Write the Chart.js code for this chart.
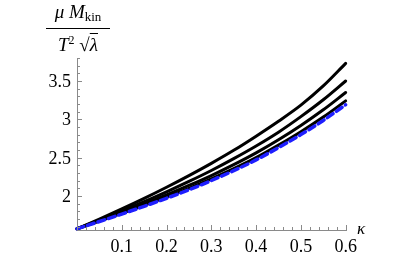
<!DOCTYPE html>
<html>
<head>
<meta charset="utf-8">
<script src="https://cdn.jsdelivr.net/npm/chart.js@4/dist/chart.umd.min.js"></script>
<style>
  html, body { margin: 0; padding: 0; background: #fff; }
  #wrap { position: relative; width: 415px; height: 257px; }
  .lbl { position: absolute; font-family: "Times New Roman", "Liberation Serif", Times, "DejaVu Serif", serif; color: #000; white-space: nowrap; }
  .tick { font-size: 18px; line-height: 20px; height: 20px; width: 40px; }
  #frac { left: 46px; top: 1px; width: 64px; text-align: center; font-size: 19px; }
  #frac .num { border-bottom: 1px solid #000; padding: 0 0 1px 0; line-height: 21px; }
  #frac .den { line-height: 21px; padding-top: 1px; }
  #frac i { font-style: italic; }
  #frac sub { font-size: 13px; vertical-align: -3px; }
  #frac sup { font-size: 12px; vertical-align: 7px; }
  #frac .rad { text-decoration: overline; }
  #kappa { left: 357px; top: 219px; font-size: 17px; font-style: italic; }
</style>
</head>
<body>
<div id="wrap">
  <canvas id="chart" width="415" height="257"></canvas>
  <div class="lbl" id="frac">
    <div class="num"><i>μ M</i><sub>kin</sub></div>
    <div class="den"><i>T</i><sup>2</sup> √<span class="rad"><i>λ</i></span></div>
  </div>
  <div class="lbl" id="kappa">κ</div>
</div>
<script>
// kappa grid the curves were read at
const kappa = [0, 0.05, 0.1, 0.15, 0.2, 0.25, 0.3, 0.35, 0.4, 0.45, 0.5, 0.55, 0.6];

// values (top curve down to dashed blue one)
const curveA = [1.571, 1.698, 1.830, 1.968, 2.113, 2.265, 2.425, 2.595, 2.78, 2.975, 3.185, 3.435, 3.73];
const curveB = [1.571, 1.685, 1.803, 1.926, 2.054, 2.189, 2.332, 2.487, 2.652, 2.832, 3.035, 3.255, 3.50];
const curveC = [1.571, 1.677, 1.785, 1.897, 2.013, 2.136, 2.266, 2.408, 2.562, 2.733, 2.920, 3.124, 3.35];
const curveD = [1.571, 1.670, 1.771, 1.876, 1.985, 2.099, 2.222, 2.355, 2.499, 2.663, 2.838, 3.029, 3.24];
const dashed = [1.571, 1.666, 1.763, 1.864, 1.969, 2.08, 2.20, 2.33, 2.47, 2.63, 2.80, 2.985, 3.19];

const xTicks = [0.1, 0.2, 0.3, 0.4, 0.5, 0.6];
const xTickLabels = ["0.1", "0.2", "0.3", "0.4", "0.5", "0.6"];
const yTicks = [2, 2.5, 3, 3.5];
const yTickLabels = ["2", "2.5", "3", "3.5"];

function pts(vals) {
    return kappa.map((k, i) => ({ x: k, y: vals[i] }));
}

// mathematica style axes: ticks point inward, minor ticks in between
const axesPlugin = {
    id: "axes",
    afterDraw(chart) {
        const ctx = chart.ctx;
        const xs = chart.scales.x, ys = chart.scales.y;
        const a = chart.chartArea;
        ctx.save();
        ctx.strokeStyle = "#8a8a8a";
        ctx.lineWidth = 1;
        ctx.beginPath();
        ctx.moveTo(a.left + 0.5, a.top);
        ctx.lineTo(a.left + 0.5, a.bottom + 0.5);
        ctx.lineTo(a.right, a.bottom + 0.5);
        ctx.stroke();

        ctx.beginPath();
        for (let i = 1; i <= 30; i++) {
            const v = i * 0.02;
            const px = Math.round(xs.getPixelForValue(v)) + 0.5;
            const len = (i % 5 === 0) ? 5 : 3;
            ctx.moveTo(px, a.bottom);
            ctx.lineTo(px, a.bottom - len);
        }
        for (let i = 16; i <= 38; i++) {
            const v = i / 10;
            const py = Math.round(ys.getPixelForValue(v)) + 0.5;
            const len = (i % 5 === 0) ? 5 : 3;
            ctx.moveTo(a.left, py);
            ctx.lineTo(a.left + len, py);
        }
        ctx.stroke();
        ctx.restore();
    }
};

const ctx = document.getElementById("chart").getContext("2d");
const chart = new Chart(ctx, {
    type: "line",
    data: {
        datasets: [
            { data: pts(dashed), borderColor: "#1e1eff", borderWidth: 3.5, borderDash: [7, 4] },
            { data: pts(curveD), borderColor: "#000", borderWidth: 3 },
            { data: pts(curveC), borderColor: "#000", borderWidth: 3 },
            { data: pts(curveB), borderColor: "#000", borderWidth: 3 },
            { data: pts(curveA), borderColor: "#000", borderWidth: 3 }
        ]
    },
    options: {
        responsive: false,
        animation: false,
        clip: false,
        layout: { padding: { left: 77, right: 68, top: 58, bottom: 27 } },
        elements: {
            point: { radius: 0 },
            line: { cubicInterpolationMode: "monotone", fill: false, borderCapStyle: "round" }
        },
        scales: {
            x: { type: "linear", min: 0, max: 0.603, display: false },
            y: { type: "linear", min: 1.555, max: 3.8, display: false }
        },
        plugins: {
            legend: { display: false },
            tooltip: { enabled: false }
        }
    },
    plugins: [axesPlugin]
});

// tick labels as html text so they get the serif font
const wrap = document.getElementById("wrap");
const area = chart.chartArea;
function addTick(text, left, top, align) {
    const d = document.createElement("div");
    d.className = "lbl tick";
    d.style.left = left + "px";
    d.style.top = top + "px";
    d.style.textAlign = align;
    d.textContent = text;
    wrap.appendChild(d);
}
xTicks.forEach((v, i) => {
    addTick(xTickLabels[i], chart.scales.x.getPixelForValue(v) - 20, area.bottom + 6, "center");
});
yTicks.forEach((v, i) => {
    addTick(yTickLabels[i], area.left - 46, chart.scales.y.getPixelForValue(v) - 10, "right");
});
</script>
</body>
</html>
